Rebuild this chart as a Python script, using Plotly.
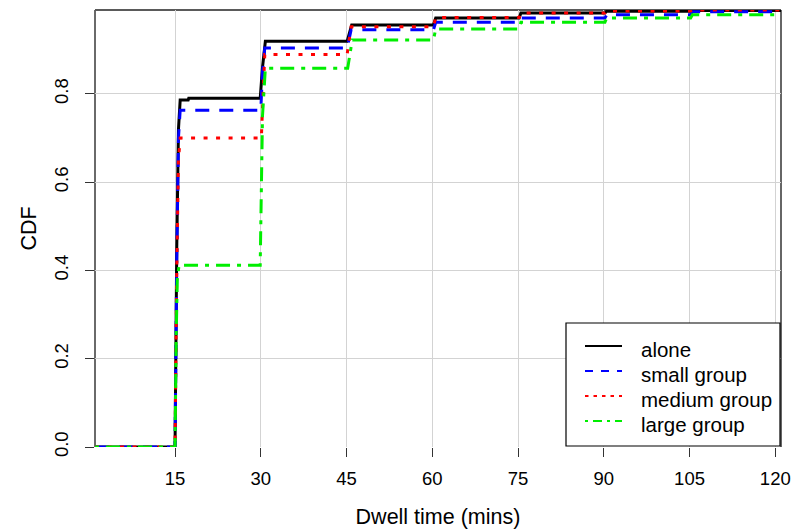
import plotly.graph_objects as go

# ---- data ----
series_names = ["alone", "small group", "medium group", "large group"]

x_alone = [1, 15.0, 15.3, 15.6, 15.9, 17.3, 17.4, 29.9, 30.3, 30.8, 45.1, 45.9, 60.2, 60.6, 75.2, 75.5, 90.2, 90.5, 105.2, 105.5, 121]
y_alone = [0, 0, 0.45, 0.72, 0.786, 0.786, 0.790, 0.790, 0.86, 0.919, 0.919, 0.956, 0.956, 0.972, 0.972, 0.983, 0.983, 0.987, 0.987, 0.989, 0.989]

x_small = [1, 15.0, 15.3, 15.6, 15.9, 30.0, 30.3, 30.7, 45.1, 45.8, 60.2, 60.6, 75.2, 75.5, 90.2, 90.5, 105.2, 105.5, 121]
y_small = [0, 0, 0.42, 0.70, 0.763, 0.763, 0.85, 0.904, 0.904, 0.945, 0.945, 0.962, 0.962, 0.972, 0.972, 0.979, 0.979, 0.986, 0.986]

x_medium = [1, 15.0, 15.3, 15.6, 15.9, 30.1, 30.4, 30.7, 45.1, 45.8, 60.2, 60.6, 75.2, 75.5, 90.2, 90.5, 105.2, 105.5, 121]
y_medium = [0, 0, 0.40, 0.65, 0.700, 0.700, 0.80, 0.889, 0.889, 0.952, 0.952, 0.973, 0.973, 0.983, 0.983, 0.988, 0.988, 0.990, 0.990]

x_large = [1, 15.0, 15.2, 15.4, 15.7, 29.9, 30.0, 30.3, 30.8, 45.2, 46.0, 60.2, 60.6, 75.2, 75.5, 90.2, 90.5, 105.2, 105.5, 121]
y_large = [0, 0, 0.25, 0.38, 0.412, 0.412, 0.50, 0.75, 0.858, 0.858, 0.922, 0.922, 0.947, 0.947, 0.962, 0.962, 0.972, 0.972, 0.979, 0.979]

x_ticks = [15, 30, 45, 60, 75, 90, 105, 120]
y_ticks = [0.0, 0.2, 0.4, 0.6, 0.8]
y_tick_labels = ["0.0", "0.2", "0.4", "0.6", "0.8"]

colors = ["#000000", "#0000FF", "#FF0000", "#00EE00"]
plot_dash = ["solid", "14px,10px", "4px,8.5px", "4px,7px,14px,7px"]
legend_dash = ["solid", "8px,8px", "3.5px,5px", "3px,5px,9px,5px"]

FONT = "Liberation Sans, Arial, sans-serif"

fig = go.Figure()
xs = [x_alone, x_small, x_medium, x_large]
ys = [y_alone, y_small, y_medium, y_large]
for name, x, y, c, d in zip(series_names, xs, ys, colors, plot_dash):
    fig.add_trace(go.Scatter(x=x, y=y, mode="lines", name=name,
                             line=dict(color=c, width=3, dash=d),
                             showlegend=False))

# frame (left, top, right dark; bottom light)
shapes = [
    dict(type="line", xref="paper", yref="paper", x0=0, x1=0, y0=0, y1=1, line=dict(color="#5a5a5a", width=1.8), layer="below"),
    dict(type="line", xref="paper", yref="paper", x0=0, x1=1, y0=1, y1=1, line=dict(color="#5a5a5a", width=1.8), layer="below"),
    dict(type="line", xref="paper", yref="paper", x0=1, x1=1, y0=0, y1=1, line=dict(color="#333333", width=1.5), layer="below"),
]

# manual legend in pixel-derived paper coords
PL, PR, PT, PB = 95, 781, 10, 447
def px(xp):
    return (xp - PL) / (PR - PL)
def py(yp):
    return (PB - yp) / (PB - PT)

shapes.append(dict(type="rect", xref="paper", yref="paper",
                   x0=px(566), x1=px(780), y0=py(446), y1=py(323),
                   line=dict(color="#000000", width=1.2), fillcolor="white", layer="above"))
annotations = []
leg_y = [346, 371, 396, 421]
for name, c, d, ly in zip(series_names, colors, legend_dash, leg_y):
    shapes.append(dict(type="line", xref="paper", yref="paper",
                       x0=px(585), x1=px(622), y0=py(ly), y1=py(ly),
                       line=dict(color=c, width=2.2, dash=d), layer="above"))
    annotations.append(dict(xref="paper", yref="paper", x=px(639), y=py(ly + 3),
                            text=name, showarrow=False, xanchor="left", yanchor="middle",
                            font=dict(family=FONT, size=20.5, color="#000000")))

fig.update_layout(
    width=791, height=532,
    margin=dict(l=PL, r=791 - PR, t=PT, b=532 - PB, autoexpand=False),
    paper_bgcolor="white", plot_bgcolor="white",
    font=dict(family=FONT, size=18, color="#000000"),
    shapes=shapes, annotations=annotations,
    xaxis=dict(range=[1, 121], tickvals=x_ticks, ticks="outside", ticklen=9,
               tickcolor="#333333", tickwidth=1, showgrid=True, gridcolor="#d3d3d3",
               gridwidth=1, zeroline=False, showline=False, automargin=False,
               ticklabelstandoff=6, tickfont=dict(size=18.5),
               title=dict(text="Dwell time (mins)", font=dict(size=21.5), standoff=20)),
    yaxis=dict(range=[0, 0.99], tickvals=y_ticks, ticktext=y_tick_labels,
               ticks="outside", ticklen=9, tickcolor="#333333", tickwidth=1,
               tickangle=-90, showgrid=True, gridcolor="#d3d3d3", gridwidth=1,
               zeroline=False, showline=False, ticklabelstandoff=10, automargin=False,
               tickfont=dict(size=18.5),
               title=dict(text="CDF", font=dict(size=21.5), standoff=8)),
)

fig.write_html("out.html")
